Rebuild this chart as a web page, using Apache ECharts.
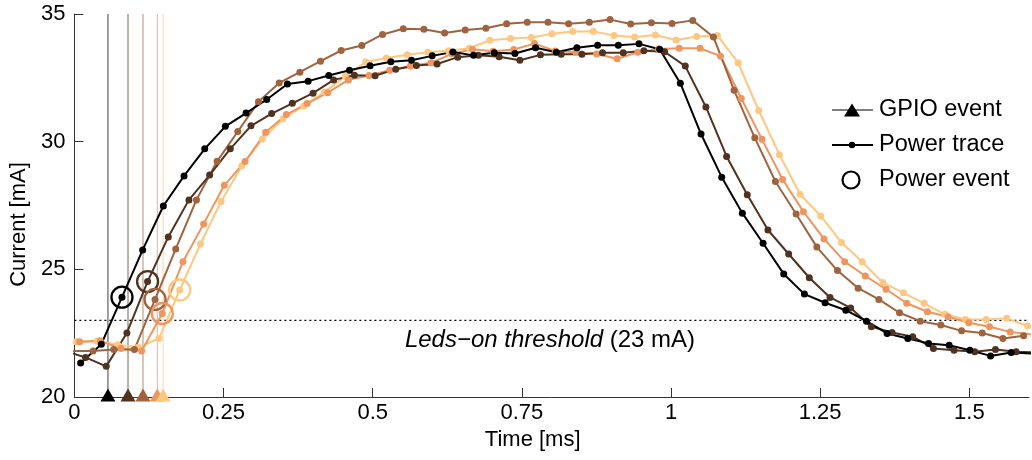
<!DOCTYPE html>
<html><head><meta charset="utf-8">
<script src="https://cdn.jsdelivr.net/npm/echarts@6/dist/echarts.min.js"></script>
<style>html,body{margin:0;padding:0;background:#fff}#c{width:1032px;height:460px}</style>
</head><body><div id="c"></div>
<script>
// copper colormap, 5 runs
const colors = ['#000000', '#503220', '#9f643f', '#ef955f', '#ffc77f'];

// Run 1 (black)
const time1 = [0.0105,0.0452,0.0798,0.1145,0.1491,0.1838,0.2185,0.2531,0.2878,0.3224,0.3571,0.3918,0.4264,0.4611,0.4957,0.5304,0.5651,0.5997,0.6344,0.669,0.7037,0.7384,0.773,0.8077,0.8423,0.877,0.9117,0.9463,0.981,1.0156,1.0503,1.085,1.1196,1.1543,1.1889,1.2236,1.2583,1.2929,1.3276,1.3622,1.3969,1.4316,1.4662,1.5009,1.5355,1.5702,1.6049];
const current1 = [21.33,22.07,23.91,25.76,27.48,28.66,29.72,30.6,31.12,31.65,32.26,32.37,32.59,32.8,32.97,33.13,33.19,33.36,33.51,33.38,33.48,33.45,33.68,33.5,33.68,33.78,33.78,33.83,33.62,32.29,30.3,28.61,27.2,26.02,24.82,24.03,23.69,23.4,22.97,22.49,22.29,22.1,22.03,21.83,21.61,21.74,21.7];

// Run 2 (dark brown)
const time2 = [-0.016,0.0187,0.0534,0.088,0.1227,0.1574,0.192,0.2267,0.2613,0.296,0.3307,0.3653,0.4,0.4346,0.4693,0.504,0.5386,0.5733,0.6079,0.6426,0.6773,0.7119,0.7466,0.7812,0.8159,0.8506,0.8852,0.9199,0.9545,0.9892,1.0239,1.0585,1.0932,1.1278,1.1625,1.1972,1.2318,1.2665,1.3011,1.3358,1.3705,1.4051,1.4398,1.4744,1.5091,1.5438,1.5784,1.6131];
const current2 = [21.8,21.55,21.2,22.51,24.52,26.27,27.72,28.69,29.72,30.62,31.1,31.5,31.9,32.42,32.6,32.58,32.84,32.98,33.04,33.31,33.38,33.33,33.19,33.4,33.42,33.42,33.48,33.48,33.56,33.52,32.96,31.36,29.42,27.92,26.54,25.6,24.67,23.9,23.49,22.75,22.53,22.36,21.9,21.83,21.77,21.86,21.77,21.75];

// Run 3 (brown)
const time3 = [-0.0034,0.0313,0.0659,0.1006,0.1352,0.1699,0.2046,0.2392,0.2739,0.3085,0.3432,0.3779,0.4125,0.4472,0.4818,0.5165,0.5512,0.5858,0.6205,0.6551,0.6898,0.7245,0.7591,0.7938,0.8284,0.8631,0.8978,0.9324,0.9671,1.0017,1.0364,1.0711,1.1057,1.1404,1.175,1.2097,1.2444,1.279,1.3137,1.3483,1.383,1.4177,1.4523,1.487,1.5216,1.5563,1.591];
const current3 = [21.8,21.8,21.86,21.86,23.82,25.8,27.72,29.23,30.4,31.56,32.3,32.72,33.15,33.57,33.77,34.2,34.42,34.4,34.26,34.37,34.44,34.62,34.68,34.68,34.62,34.68,34.78,34.61,34.66,34.63,34.75,34.1,32.01,30.15,28.44,27.17,25.87,24.95,24.26,23.82,23.3,22.97,22.82,22.59,22.51,22.29,22.4];

// Run 4 (orange)
const time4 = [0.0087,0.0433,0.078,0.1127,0.1473,0.182,0.2166,0.2513,0.286,0.3206,0.3553,0.3899,0.4246,0.4593,0.4939,0.5286,0.5632,0.5979,0.6326,0.6672,0.7019,0.7365,0.7712,0.8059,0.8405,0.8752,0.9098,0.9445,0.9792,1.0138,1.0485,1.0831,1.1178,1.1525,1.1871,1.2218,1.2564,1.2911,1.3258,1.3604,1.3951,1.4297,1.4644,1.4991,1.5337,1.5684,1.603];
const current4 = [22.16,22.2,21.9,21.8,23.27,25.3,26.78,28.29,29.22,30.37,31.06,31.49,31.92,32.42,32.59,32.8,32.96,33.09,33.44,33.62,33.54,33.61,33.84,33.55,33.5,33.43,33.25,33.5,33.63,33.66,33.66,33.35,31.69,30.09,28.52,27.26,26.19,25.3,24.74,24.22,23.67,23.34,23.14,22.91,22.75,22.55,22.46];

// Run 5 (light orange)
const time5 = [0.0032,0.0379,0.0726,0.1072,0.1419,0.1765,0.2112,0.2459,0.2805,0.3152,0.3498,0.3845,0.4192,0.4538,0.4885,0.5231,0.5578,0.5925,0.6271,0.6618,0.6964,0.7311,0.7658,0.8004,0.8351,0.8697,0.9044,0.9391,0.9737,1.0084,1.043,1.0777,1.1124,1.147,1.1817,1.2163,1.251,1.2857,1.3203,1.355,1.3896,1.4243,1.459,1.4936,1.5283,1.5629,1.5976];
const current5 = [22.16,22.18,22.05,21.95,22.29,24.19,25.99,27.66,29.05,30.1,30.9,31.4,31.95,32.55,33.12,33.28,33.4,33.5,33.56,33.66,33.97,34.04,34.08,34.23,34.31,34.32,34.16,34.1,34.18,33.98,34.12,34.16,33.09,31.22,29.49,27.94,27.09,26.05,25.3,24.48,24.08,23.67,23.24,23.04,23.04,23.08,22.78];

// GPIO events (ms) and power events (ms, mA)
const gpioTimes = [0.0563, 0.0899, 0.1150, 0.1390, 0.1487];
const powerEventTimes = [0.0798, 0.1227, 0.1352, 0.1473, 0.1765];
const powerEventCurrents = [23.91, 24.52, 23.82, 23.27, 24.19];

const threshold = 23;
const xTicks = [0, 0.25, 0.5, 0.75, 1, 1.25, 1.5];
const yTicks = [20, 25, 30, 35];
const xRange = [0, 1.6];
const yRange = [20, 35];

const FONT = 'Liberation Sans';
const traces = [[time1, current1], [time2, current2], [time3, current3], [time4, current4], [time5, current5]];

const series = [];
series.push({
  type: 'line', data: [[xRange[0], threshold], [xRange[1], threshold]], symbol: 'none', silent: true,
  lineStyle: { color: '#000', width: 1.1, type: [2, 3] }, z: 1
});
gpioTimes.forEach((g, k) => series.push({
  type: 'line', data: [[g, yRange[0]], [g, yRange[1]]], symbol: 'none', silent: true,
  lineStyle: { color: colors[k], width: 1, opacity: 0.75 }, z: 2
}));
for (let k = traces.length - 1; k >= 0; k--) {
  const [ts, vs] = traces[k];
  series.push({
    type: 'line', data: ts.map((t, j) => [t, vs[j]]), symbol: 'circle', symbolSize: 7,
    showAllSymbol: true, itemStyle: { color: colors[k], opacity: 1 }, lineStyle: { color: colors[k], width: 2 }, z: 3
  });
}
series.push({
  type: 'scatter', symbol: 'circle', symbolSize: 21, z: 5, clip: false,
  data: powerEventTimes.map((t, k) => ({ value: [t, powerEventCurrents[k]], itemStyle: { borderColor: colors[k] } })),
  itemStyle: { color: 'rgba(255,255,255,0)', borderWidth: 2.3, opacity: 1 }
});
series.push({
  type: 'scatter', symbol: 'triangle', symbolSize: [15, 13], symbolOffset: [0, -2], z: 6, clip: false,
  data: gpioTimes.map((g, k) => ({ value: [g, yRange[0]], itemStyle: { color: colors[k] } })),
  itemStyle: { opacity: 1 }
});

const txt = { fontFamily: FONT, fontSize: 22, color: '#000' };
const chart = echarts.init(document.getElementById('c'), null, { renderer: 'canvas' });
chart.setOption({
  animation: false,
  backgroundColor: '#fff',
  grid: { left: 72, top: 14, width: 957, height: 383, containLabel: false },
  xAxis: {
    type: 'value', min: xRange[0], max: xRange[1], interval: 0.25,
    axisLine: { show: true, onZero: false, lineStyle: { color: '#333', width: 1 } },
    axisTick: { show: true, inside: true, length: 9, customValues: xTicks, lineStyle: { color: '#333' } },
    axisLabel: Object.assign({ customValues: xTicks, margin: 5, formatter: v => String(v) }, txt),
    splitLine: { show: false },
    name: 'Time [ms]', nameLocation: 'middle', nameGap: 28,
    nameTextStyle: Object.assign({ padding: [0, 38, 0, 0] }, txt)
  },
  yAxis: {
    type: 'value', min: yRange[0], max: yRange[1], interval: 5,
    axisLine: { show: true, onZero: false, lineStyle: { color: '#333', width: 1 } },
    axisTick: { show: true, inside: true, length: 9, customValues: yTicks, lineStyle: { color: '#333' } },
    axisLabel: Object.assign({ customValues: yTicks, margin: 9 }, txt),
    splitLine: { show: false },
    name: 'Current [mA]', nameLocation: 'middle', nameGap: 34, nameRotate: 90,
    nameTextStyle: Object.assign({ padding: [0, 38, 0, 0] }, txt)
  },
  series: series,
  graphic: [
    { type: 'line', shape: { x1: 832, y1: 110, x2: 873, y2: 110 }, style: { stroke: '#000', lineWidth: 1 } },
    { type: 'polygon', shape: { points: [[852, 103.5], [860, 116.5], [844, 116.5]] }, style: { fill: '#000' } },
    { type: 'text', x: 879, y: 110, style: { text: 'GPIO event', fontFamily: FONT, fontSize: 23.5, fill: '#000', align: 'left', verticalAlign: 'middle' } },
    { type: 'line', shape: { x1: 832, y1: 145, x2: 873, y2: 145 }, style: { stroke: '#000', lineWidth: 2 } },
    { type: 'circle', shape: { cx: 852, cy: 145, r: 3.2 }, style: { fill: '#000' } },
    { type: 'text', x: 879, y: 145, style: { text: 'Power trace', fontFamily: FONT, fontSize: 23.5, fill: '#000', align: 'left', verticalAlign: 'middle' } },
    { type: 'circle', shape: { cx: 851, cy: 180, r: 8.5 }, style: { fill: 'none', stroke: '#000', lineWidth: 2.2 } },
    { type: 'text', x: 879, y: 180, style: { text: 'Power event', fontFamily: FONT, fontSize: 23.5, fill: '#000', align: 'left', verticalAlign: 'middle' } },
    { type: 'text', x: 550, y: 340, style: {
        text: '{i|Leds\u2212on threshold} (23 mA)', fontFamily: FONT, fontSize: 24, fill: '#000',
        align: 'center', verticalAlign: 'middle',
        rich: { i: { fontStyle: 'italic', fontFamily: FONT, fontSize: 24 } } } }
  ]
});
</script></body></html>
